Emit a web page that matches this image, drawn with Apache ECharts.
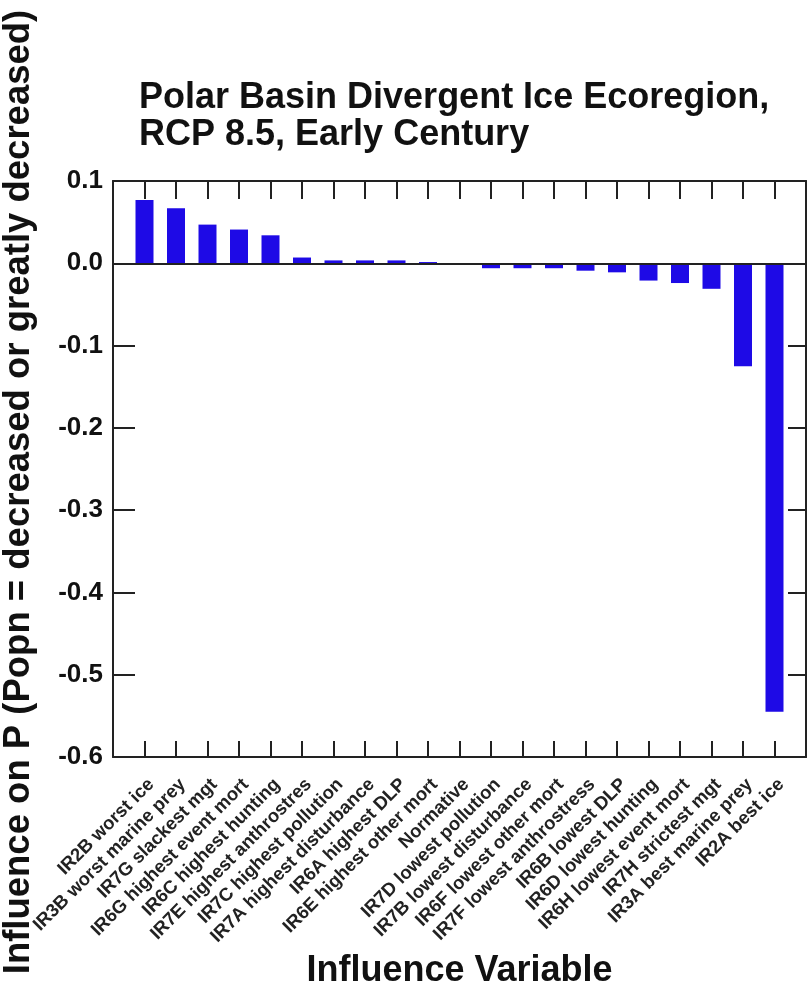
<!DOCTYPE html>
<html>
<head>
<meta charset="utf-8">
<script src="https://cdn.jsdelivr.net/npm/echarts@6/dist/echarts.min.js"></script>
<style>
    html, body { margin: 0; padding: 0; background: #fff; }
    #chart { width: 807px; height: 987px; }
</style>
</head>
<body>
<div id="chart"></div>
<script>
// Influence variables, left to right
var categories = [
    'IR2B worst ice', 'IR3B worst marine prey', 'IR7G slackest mgt',
    'IR6G highest event mort', 'IR6C highest hunting', 'IR7E highest anthrostres',
    'IR7C highest pollution', 'IR7A highest disturbance', 'IR6A highest DLP',
    'IR6E highest other mort', 'Normative', 'IR7D lowest pollution',
    'IR7B lowest disturbance', 'IR6F lowest other mort', 'IR7F lowest anthrostress',
    'IR6B lowest DLP', 'IR6D lowest hunting', 'IR6H lowest event mort',
    'IR7H strictest mgt', 'IR3A best marine prey', 'IR2A best ice'
];
var influence = [
    0.077, 0.067, 0.047, 0.041, 0.034, 0.007, 0.0035, 0.0035, 0.0035, 0.0015,
    0.0, -0.006, -0.006, -0.006, -0.009, -0.011, -0.021, -0.024, -0.031,
    -0.125, -0.545
];
var yTicks = [0.1, 0.0, -0.1, -0.2, -0.3, -0.4, -0.5, -0.6];

// empty slot at each end so the bars sit one step inside the frame
var xData = [''].concat(categories, ['']);
var yData = [null].concat(influence, [null]);
var lastIdx = xData.length - 1;
function innerTick(i) { return i > 0 && i < lastIdx; }

var axisColor = '#222';
var barColor = '#1E0AE6';
var font = 'Liberation Sans, Arial, sans-serif';

var dom = document.getElementById('chart');
var myChart = echarts.init(dom, null, { renderer: 'canvas' });

var option = {
    backgroundColor: '#fff',
    animation: false,
    title: {
        text: 'Polar Basin Divergent Ice Ecoregion,\nRCP 8.5, Early Century',
        left: 139,
        top: 80,
        padding: 0,
        textStyle: {
            fontFamily: font,
            fontSize: 36,
            fontWeight: 'bold',
            color: '#111',
            lineHeight: 37
        }
    },
    grid: {
        left: 113,
        right: 1,
        top: 181,
        bottom: 230,
        outerBoundsMode: 'none'
    },
    xAxis: [
        {
            type: 'category',
            data: xData,
            boundaryGap: false,
            position: 'bottom',
            name: 'Influence Variable',
            nameLocation: 'middle',
            nameGap: 190,
            nameTextStyle: {
                fontFamily: font,
                fontSize: 36,
                fontWeight: 'bold',
                color: '#111'
            },
            axisLine: { onZero: false, lineStyle: { color: axisColor, width: 2 } },
            axisTick: {
                inside: true,
                length: 16,
                interval: function (i) { return innerTick(i); },
                lineStyle: { color: axisColor, width: 2 }
            },
            axisLabel: {
                interval: 0,
                rotate: 45,
                margin: 18,
                verticalAlign: 'top',
                fontFamily: font,
                fontSize: 18.5,
                fontWeight: 'bold',
                color: '#222'
            },
            splitLine: { show: false }
        },
        {
            type: 'category',
            data: xData,
            boundaryGap: false,
            position: 'top',
            axisLine: { onZero: false, lineStyle: { color: axisColor, width: 2 } },
            axisTick: {
                inside: true,
                length: 18,
                interval: function (i) { return innerTick(i); },
                lineStyle: { color: axisColor, width: 2 }
            },
            axisLabel: { show: false },
            splitLine: { show: false }
        }
    ],
    yAxis: [
        {
            type: 'value',
            min: -0.6,
            max: 0.1,
            interval: 0.1,
            position: 'left',
            name: 'Influence on P (Popn = decreased or greatly decreased)',
            nameLocation: 'middle',
            nameGap: 76,
            nameRotate: 90,
            nameTextStyle: {
                fontFamily: font,
                fontSize: 36.5,
                fontWeight: 'bold',
                color: '#111',
                padding: [0, 46, 0, 0]
            },
            axisLine: { show: true, onZero: false, lineStyle: { color: axisColor, width: 2 } },
            axisTick: { show: true, inside: true, length: 22, lineStyle: { color: axisColor, width: 2 } },
            axisLabel: {
                margin: 10,
                fontFamily: font,
                fontSize: 26,
                fontWeight: 'bold',
                color: '#111',
                formatter: function (v) {
                    var hit = yTicks.find(function (t) { return Math.abs(t - v) < 1e-9; });
                    return hit === undefined ? '' : hit.toFixed(1);
                }
            },
            splitLine: { show: false }
        },
        {
            type: 'value',
            min: -0.6,
            max: 0.1,
            interval: 0.1,
            position: 'right',
            axisLine: { show: true, onZero: false, lineStyle: { color: axisColor, width: 2 } },
            axisTick: { show: true, inside: true, length: 18, lineStyle: { color: axisColor, width: 2 } },
            axisLabel: { show: false },
            splitLine: { show: false }
        }
    ],
    series: [
        {
            type: 'bar',
            xAxisIndex: 0,
            yAxisIndex: 0,
            data: yData,
            barWidth: 18,
            itemStyle: { color: barColor },
            markLine: {
                silent: true,
                symbol: 'none',
                label: { show: false },
                lineStyle: { color: axisColor, width: 2, type: 'solid' },
                data: [{ yAxis: 0 }]
            }
        }
    ]
};

myChart.setOption(option);
</script>
</body>
</html>
